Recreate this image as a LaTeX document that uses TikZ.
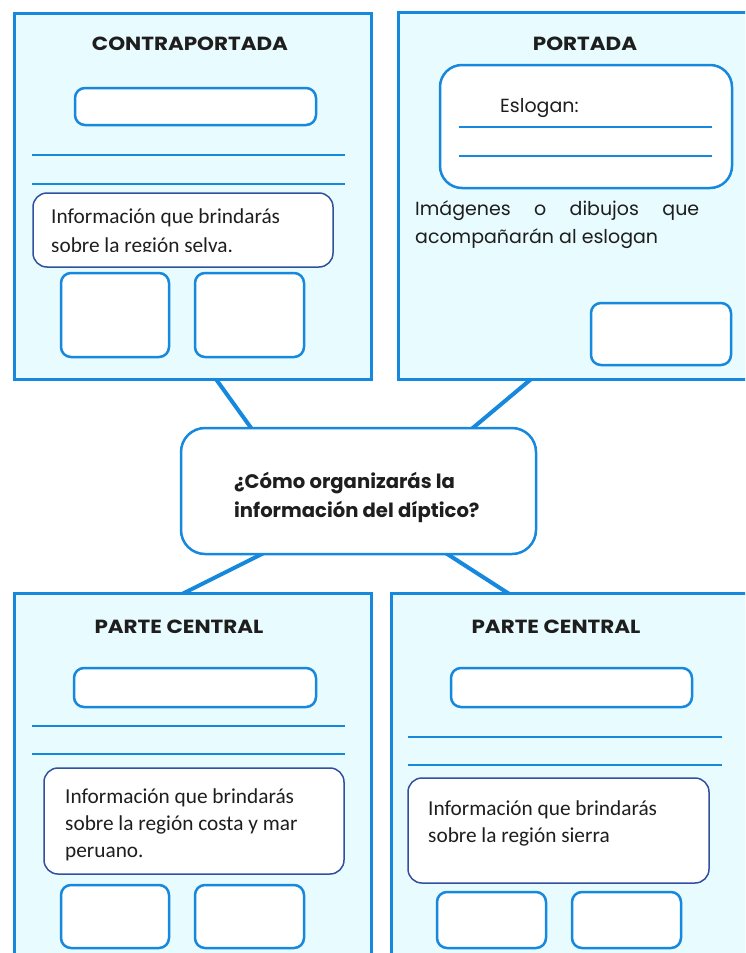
\documentclass[tikz,border=0pt]{standalone}
\usepackage{fontspec}
\setmainfont{Carlito}
\newfontfamily\geo{Poppins}
\newfontfamily\geow[FakeStretch=1.13]{Poppins}
\usetikzlibrary{fit}
\definecolor{panelfill}{RGB}{232,251,254}
\definecolor{lineblue}{RGB}{22,136,222}
\definecolor{infoblue}{RGB}{50,80,160}
\definecolor{ink}{RGB}{30,30,30}
\begin{document}
\begin{tikzpicture}[x=1pt,y=-1pt,
  panel/.style={draw=lineblue,fill=panelfill,line width=3pt,inner sep=0pt},
  smallbox/.style={draw=lineblue,fill=white,line width=2.5pt,inner sep=0pt,rounded corners=10pt},
  infobox/.style={draw=infoblue,fill=white,line width=1.5pt,inner sep=0pt,rounded corners=14pt},
  bigbox/.style={draw=lineblue,fill=white,line width=2.5pt,inner sep=0pt,rounded corners=24pt},
  rule/.style={draw=lineblue,line width=2pt},
  conn/.style={draw=lineblue,line width=4pt},
  ttl/.style={font=\geow\bfseries\fontsize{19}{22}\selectfont,text=ink,inner sep=0pt},
  geotxt/.style={font=\geo\fontsize{19}{22}\selectfont,text=ink,inner sep=0pt,anchor=base west},
  qtxt/.style={font=\geo\bfseries\fontsize{19.6}{22}\selectfont,text=ink,inner sep=0pt,anchor=base west},
  infotxt/.style={font=\fontsize{21.3}{25}\selectfont,text=ink,inner sep=0pt,anchor=base west}
]
\clip (0,0) rectangle (745,953);
\fill[white] (0,0) rectangle (745,953);
% connector end points
\coordinate (k1a) at (213,375); \coordinate (k1b) at (254,432);
\coordinate (k2a) at (536,375); \coordinate (k2b) at (468,432);
\coordinate (k3a) at (270,550); \coordinate (k3b) at (176,597);
\coordinate (k4a) at (441,550); \coordinate (k4b) at (514,597);
\draw[conn] (k1a) -- (k1b);
\draw[conn] (k2a) -- (k2b);
\draw[conn] (k3a) -- (k3b);
\draw[conn] (k4a) -- (k4b);

% ---------- CONTRAPORTADA ----------
\node[panel,fit={(14,13) (371,379)}] (p1) {};
\node[ttl] (t1) at (190,44) {CONTRAPORTADA};
\node[smallbox,fit={(75,88) (316,125)}] (p1r) {};
\draw[rule] (32,155) coordinate (p1l1a) -- (345,155) coordinate (p1l1b);
\draw[rule] (32,184) coordinate (p1l2a) -- (345,184) coordinate (p1l2b);
\node[infobox,fit={(33,193) (333,267)}] (p1i) {};
\node[infotxt] (p1t1) at (51,223) {Información que brindarás};
\begin{scope}
\clip (33,230) rectangle (333,251.5);
\node[infotxt] (p1t2) at (51,252.5) {sobre la región selva.};
\end{scope}
\node[smallbox,fit={(61,273) (169,357)}] (p1a) {};
\node[smallbox,fit={(195,273) (304,357)}] (p1b) {};

% ---------- PORTADA ----------
\node[panel,fit={(398,12) (760,379)}] (p2) {};
\node[ttl] (t2) at (585,44) {PORTADA};
\node[bigbox,rounded corners=22pt,fit={(440,65) (732,188)}] (p2e) {};
\node[geotxt] (p2t0) at (500,112) {Eslogan:};
\draw[rule] (459,127) coordinate (p2l1a) -- (712,127) coordinate (p2l1b);
\draw[rule] (459,156) coordinate (p2l2a) -- (712,156) coordinate (p2l2b);
\node[geotxt] (p2t1) at (415,215) {\makebox[284pt][s]{Imágenes o dibujos que}};
\node[geotxt] (p2t2) at (415,243) {acompañarán al eslogan};
\node[smallbox,fit={(591,303) (731,365)}] (p2a) {};

% ---------- central question ----------
\node[bigbox,fit={(181,428) (536,554)}] (q) {};
\node[qtxt] (q1) at (234,488) {¿Cómo organizarás la};
\node[qtxt] (q2) at (234,517) {información del díptico?};

% ---------- PARTE CENTRAL (left) ----------
\node[panel,fit={(14,593) (371,970)}] (p3) {};
\node[ttl] (t3) at (179,627) {PARTE CENTRAL};
\node[smallbox,fit={(74,668) (316,707)}] (p3r) {};
\draw[rule] (32,726) coordinate (p3l1a) -- (345,726) coordinate (p3l1b);
\draw[rule] (32,754) coordinate (p3l2a) -- (345,754) coordinate (p3l2b);
\node[infobox,fit={(44,768) (344,874)}] (p3i) {};
\node[infotxt] (p3t1) at (65,803) {Información que brindarás};
\node[infotxt] (p3t2) at (65,830) {sobre la región costa y mar};
\node[infotxt] (p3t3) at (65,857) {peruano.};
\node[smallbox,fit={(61,885) (169,948)}] (p3a) {};
\node[smallbox,fit={(195,885) (304,948)}] (p3b) {};

% ---------- PARTE CENTRAL (right) ----------
\node[panel,fit={(391,593) (760,970)}] (p4) {};
\node[ttl] (t4) at (556,627) {PARTE CENTRAL};
\node[smallbox,fit={(451,668) (692,707)}] (p4r) {};
\draw[rule] (408,737) coordinate (p4l1a) -- (722,737) coordinate (p4l1b);
\draw[rule] (408,765) coordinate (p4l2a) -- (722,765) coordinate (p4l2b);
\node[infobox,fit={(408,778) (709,883)}] (p4i) {};
\node[infotxt] (p4t1) at (428,815) {Información que brindarás};
\node[infotxt] (p4t2) at (428,842) {sobre la región sierra};
\node[smallbox,fit={(437,892) (546,948)}] (p4a) {};
\node[smallbox,fit={(572,892) (681,948)}] (p4b) {};
\end{tikzpicture}
\end{document}
